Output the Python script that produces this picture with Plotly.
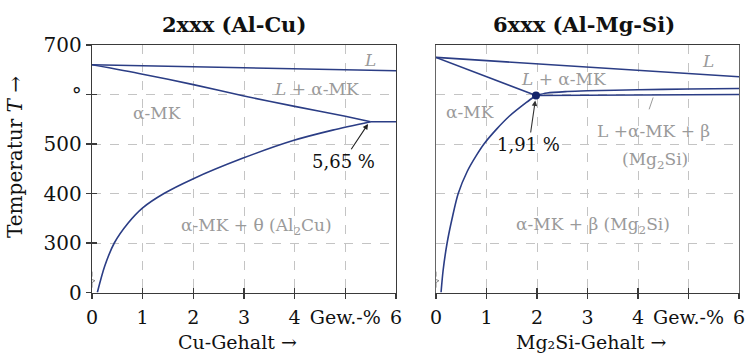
import plotly.graph_objects as go

# ---------------- data ----------------
# Al-Cu (2xxx)
cu_liq_x = [0, 6]
cu_liq_T = [660, 648]
cu_sol_x = [0, 1, 2, 3, 4, 5, 5.5]
cu_sol_T = [660, 641, 620, 597, 576, 556, 545]
cu_eut_x = [5.5, 6]
cu_eut_T = [545, 545]
cu_solv_x = [0.105, 0.25, 0.44, 0.71, 1.0, 1.42, 1.98, 2.97, 3.97, 4.75, 5.5]
cu_solv_T = [200, 253, 300, 340, 371, 400, 429, 471, 507, 528, 545]

# Al-Mg2Si (6xxx)
mg_liq_x = [0, 6]
mg_liq_T = [675, 636]
mg_sol_x = [0, 1.98]
mg_sol_T = [675, 598]
mg_up_x = [1.98, 2.2, 2.6, 3, 4, 5, 6]
mg_up_T = [598, 603, 606, 607.5, 609.5, 611, 612]
mg_low_x = [1.98, 6]
mg_low_T = [598, 600]
mg_solv_x = [0.1, 0.14, 0.22, 0.32, 0.44, 0.62, 0.8, 0.95, 1.2, 1.45, 1.79, 1.98]
mg_solv_T = [200, 244, 300, 350, 400, 445, 477, 500, 530, 556, 584, 598]
mg_point_x = [1.98]
mg_point_T = [598]
mg_leader_x = [4.22, 4.30]
mg_leader_T = [570, 594]

x_tickvals = [0, 1, 2, 3, 4, 5, 6]
x_ticktext = ["0", "1", "2", "3", "4", "Gew.-%", "6"]
y_tickvals = [200, 300, 400, 500, 600, 700]
y_ticktext = ["0", "300", "400", "500", "°", "700"]

# ---------------- style ----------------
FONT = "DejaVu Serif, Liberation Serif, serif"
LINE = "#2b3d85"
GREY = "#9a9a9a"
GRID = "#c4c4c4"
AX = "#3a3a3a"

fig = go.Figure()

def line(x, y, xa, ya, w=1.6):
    fig.add_trace(go.Scatter(x=x, y=y, mode="lines", xaxis=xa, yaxis=ya,
                             line=dict(color=LINE, width=w, shape="spline", smoothing=0.8),
                             hoverinfo="skip", showlegend=False))

line(cu_liq_x, cu_liq_T, "x", "y")
line(cu_sol_x, cu_sol_T, "x", "y")
line(cu_eut_x, cu_eut_T, "x", "y")
line(cu_solv_x, cu_solv_T, "x", "y")

line(mg_liq_x, mg_liq_T, "x2", "y2")
line(mg_sol_x, mg_sol_T, "x2", "y2")
line(mg_up_x, mg_up_T, "x2", "y2")
line(mg_low_x, mg_low_T, "x2", "y2")
line(mg_solv_x, mg_solv_T, "x2", "y2")
fig.add_trace(go.Scatter(x=mg_point_x, y=mg_point_T, mode="markers", xaxis="x2", yaxis="y2",
                         marker=dict(color="#13246b", size=8), showlegend=False, hoverinfo="skip"))
fig.add_trace(go.Scatter(x=mg_leader_x, y=mg_leader_T, mode="lines", xaxis="x2", yaxis="y2",
                         line=dict(color=GREY, width=1), showlegend=False, hoverinfo="skip"))

# dummy traces for inner-tick overlay axes
for xa, ya in [("x3", "y3"), ("x4", "y4")]:
    fig.add_trace(go.Scatter(x=[None], y=[None], xaxis=xa, yaxis=ya, showlegend=False,
                             hoverinfo="skip"))

YDOM = [1 - 292.5 / 354, 1 - 45 / 354]
XD1 = [92 / 747, 396 / 747]
XD2 = [436 / 747, 739 / 747]

def xax(dom, anchor, **kw):
    d = dict(domain=dom, anchor=anchor, range=[0, 6], tickvals=x_tickvals, ticktext=x_ticktext,
             showgrid=True, gridcolor=GRID, griddash="dash", gridwidth=1,
             showline=True, linecolor=AX, linewidth=1.3, mirror=True,
             ticks="outside", ticklen=5, tickcolor=AX, tickwidth=1.3,
             ticklabelstandoff=2,
             tickfont=dict(family=FONT, size=19, color="#111"), zeroline=False,
             fixedrange=True, automargin=False)
    d.update(kw)
    return d

def yax(anchor, **kw):
    d = dict(domain=YDOM, anchor=anchor, range=[200, 700], tickvals=y_tickvals, ticktext=y_ticktext,
             showgrid=True, gridcolor=GRID, griddash="dash", gridwidth=1,
             showline=True, linecolor=AX, linewidth=1.3, mirror=True,
             ticks="outside", ticklen=5, tickcolor=AX, tickwidth=1.3,
             tickfont=dict(family=FONT, size=20, color="#111"), zeroline=False,
             fixedrange=True, automargin=False)
    d.update(kw)
    return d

inner = dict(showgrid=False, showline=False, ticks="inside", showticklabels=False)

fig.update_layout(
    width=747, height=354,
    margin=dict(l=0, r=0, t=0, b=0, autoexpand=False),
    paper_bgcolor="white", plot_bgcolor="white",
    showlegend=False,
    xaxis=xax(XD1, "y"),
    yaxis=yax("x"),
    xaxis2=xax(XD2, "y2"),
    yaxis2=yax("x2", ticks="", showticklabels=False, linecolor="#666"),
    xaxis3=xax(XD1, "y3", overlaying="x", **inner),
    yaxis3=yax("x3", overlaying="y", **inner),
    xaxis4=xax(XD2, "y4", overlaying="x2", **inner),
    yaxis4=yax("x4", overlaying="y2", ticks="", showticklabels=False, showgrid=False, showline=False),
)

ann = []
def label(text, x, y, xr, yr, color=GREY, size=17, **kw):
    ann.append(dict(text=text, x=x, y=y, xref=xr, yref=yr, showarrow=False,
                    xanchor="center", yanchor="middle",
                    font=dict(family=FONT, size=size, color=color), **kw))

# left panel labels
label("<i>L</i>", 5.48, 670, "x", "y")
label("<i>L</i> + α-MK", 4.43, 611, "x", "y")
label("α-MK", 1.28, 562, "x", "y")
label("α-MK + θ (Al<sub>2</sub>Cu)", 3.25, 334, "x", "y")
ann.append(dict(text="5,65 %", x=5.47, y=544, xref="x", yref="y", ax=4.96, ay=465,
                axref="x", ayref="y", showarrow=True, arrowhead=2, arrowsize=1, arrowwidth=1.1,
                arrowcolor="#222", standoff=2,
                font=dict(family=FONT, size=18, color="#111")))

# right panel labels
label("<i>L</i>", 5.39, 668, "x2", "y2")
label("<i>L</i> + α-MK", 2.52, 631, "x2", "y2")
label("α-MK", 0.67, 564, "x2", "y2")
label("L +α-MK + β", 4.3, 527, "x2", "y2")
label("(Mg<sub>2</sub>Si)", 4.33, 467, "x2", "y2")
label("α-MK + β (Mg<sub>2</sub>Si)", 3.11, 335, "x2", "y2")
ann.append(dict(text="1,91 %", x=1.98, y=598, xref="x2", yref="y2", ax=1.84, ay=499,
                axref="x2", ayref="y2", showarrow=True, arrowhead=2, arrowsize=1, arrowwidth=1.1,
                arrowcolor="#333", standoff=5,
                font=dict(family=FONT, size=18, color="#111")))

# titles
label("<b>2xxx (Al-Cu)</b>", 234 / 747, 1 - 24 / 354, "paper", "paper", color="#111", size=21)
label("<b>6xxx (Al-Mg-Si)</b>", 584 / 747, 1 - 24 / 354, "paper", "paper", color="#111", size=21)
# axis titles
label("Cu-Gehalt →", 237 / 747, 1 - 342 / 354, "paper", "paper", color="#111", size=19)
label("Mg₂Si-Gehalt →", 591 / 747, 1 - 342 / 354, "paper", "paper", color="#111", size=19)
label("Temperatur <i>T</i> →", 15 / 747, 1 - 157 / 354, "paper", "paper", color="#111", size=20,
      textangle=-90)

fig.update_layout(annotations=ann)

# axis break marks
shapes = []
for xr, yr in [("x", "y"), ("x2", "y2")]:
    shapes.append(dict(type="path", xref=xr, yref=yr, xsizemode="pixel", ysizemode="pixel",
                       xanchor=0, yanchor=226,
                       path="M 0,8 L 0,3 L -3,1 L 3,-1 L 0,-3 L 0,-8",
                       line=dict(color="#888", width=1)))
fig.update_layout(shapes=shapes)

fig.write_html("out.html", config={"displayModeBar": False, "staticPlot": True},
               post_script="document.body.style.margin='0';document.body.style.overflow='hidden';")
